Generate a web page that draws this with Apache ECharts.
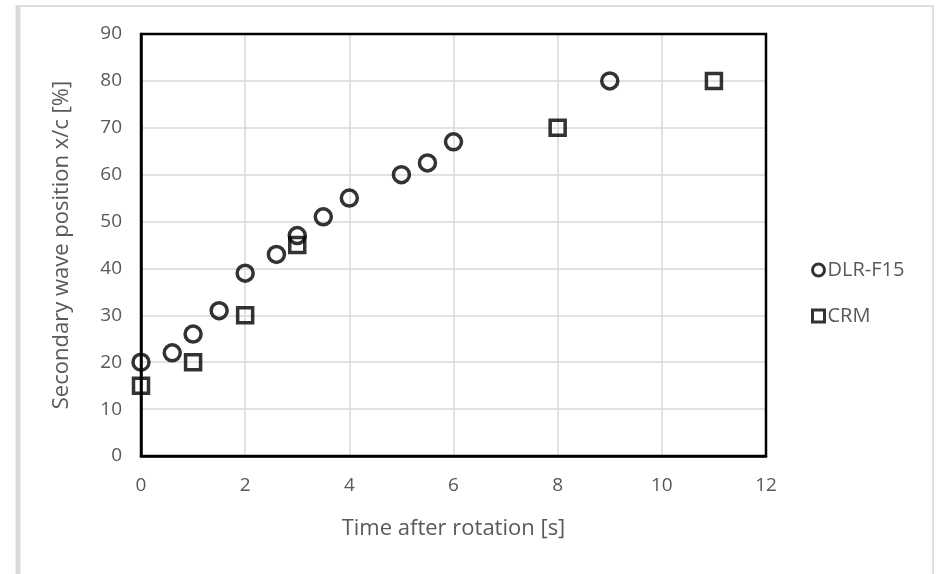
<!DOCTYPE html>
<html>
<head>
<meta charset="utf-8">
<script src="https://cdn.jsdelivr.net/npm/echarts@6/dist/echarts.min.js"></script>
<style>
  html, body { margin: 0; padding: 0; background: #fff; }
  #chart { width: 937px; height: 574px; }
</style>
</head>
<body>
<div id="chart"></div>
<script>
// Secondary wave position vs. time after rotation
const dlrTime = [0, 0.6, 1, 1.5, 2, 2.6, 3, 3.5, 4, 5, 5.5, 6, 9];
const dlrPos  = [20, 22, 26, 31, 39, 43, 47, 51, 55, 60, 62.5, 67, 80];
const crmTime = [0, 1, 2, 3, 8, 11];
const crmPos  = [15, 20, 30, 45, 70, 80];
const seriesNames = ['DLR-F15', 'CRM'];

const pairs = (xs, ys) => xs.map((x, i) => [x, ys[i]]);

const textColor = '#595959';
const font = 'Open Sans';

const markerStyle = { color: 'rgba(255,255,255,0)', borderColor: '#000', borderWidth: 3.5 };

const gridBox = { left: 141, top: 34, width: 625, height: 422 };

const chart = echarts.init(document.getElementById('chart'));
chart.setOption({
  animation: false,
  backgroundColor: '#fff',
  graphic: [
    { type: 'rect', shape: { x: 17, y: 6, width: 916, height: 580 }, style: { fill: 'none', stroke: '#dedede', lineWidth: 2 }, silent: true },
    { type: 'line', shape: { x1: 18, y1: 6, x2: 18, y2: 574 }, style: { stroke: '#d9d9d9', lineWidth: 5 }, silent: true },
    // black frame round the plot area, above the grid lines
    { type: 'rect', z: 10, shape: { x: gridBox.left, y: gridBox.top, width: gridBox.width, height: gridBox.height },
      style: { fill: 'none', stroke: '#000', lineWidth: 2.5 }, silent: true }
  ],
  grid: Object.assign({ show: false }, gridBox),
  xAxis: {
    type: 'value', min: 0, max: 12, interval: 2,
    name: 'Time after rotation [s]', nameLocation: 'middle', nameGap: 62,
    nameTextStyle: { color: textColor, fontFamily: font, fontSize: 22 },
    axisLine: { onZero: false, lineStyle: { color: '#000', width: 2.5 } },
    axisTick: { show: false },
    axisLabel: { color: textColor, fontFamily: font, fontSize: 19, margin: 20 },
    splitLine: { lineStyle: { color: '#d9d9d9', width: 1.5 } }
  },
  yAxis: {
    type: 'value', min: 0, max: 90, interval: 10,
    name: 'Secondary wave position x/c [%]', nameLocation: 'middle', nameGap: 68,
    nameTextStyle: { color: textColor, fontFamily: font, fontSize: 22 },
    axisLine: { show: true, onZero: false, lineStyle: { color: '#000', width: 2.5 } },
    axisTick: { show: false },
    axisLabel: { color: textColor, fontFamily: font, fontSize: 19, margin: 19 },
    splitLine: { lineStyle: { color: '#d9d9d9', width: 1.5 } }
  },
  legend: {
    orient: 'vertical', left: 806, top: 255, itemGap: 26,
    itemWidth: 12, itemHeight: 12,
    textStyle: { color: textColor, fontFamily: font, fontSize: 20, padding: [0, 0, 0, -2] },
    data: [
      { name: seriesNames[0], icon: 'circle', itemStyle: { color: '#fff', borderColor: '#000', borderWidth: 3 } },
      { name: seriesNames[1], icon: 'rect', itemStyle: { color: '#fff', borderColor: '#000', borderWidth: 3 } }
    ]
  },
  series: [
    {
      name: seriesNames[0], type: 'scatter', symbol: 'circle', symbolSize: 16,
      itemStyle: markerStyle, z: 3,
      data: pairs(dlrTime, dlrPos)
    },
    {
      name: seriesNames[1], type: 'scatter', symbol: 'rect', symbolSize: 15,
      itemStyle: markerStyle, z: 3,
      data: pairs(crmTime, crmPos)
    }
  ]
});
</script>
</body>
</html>
